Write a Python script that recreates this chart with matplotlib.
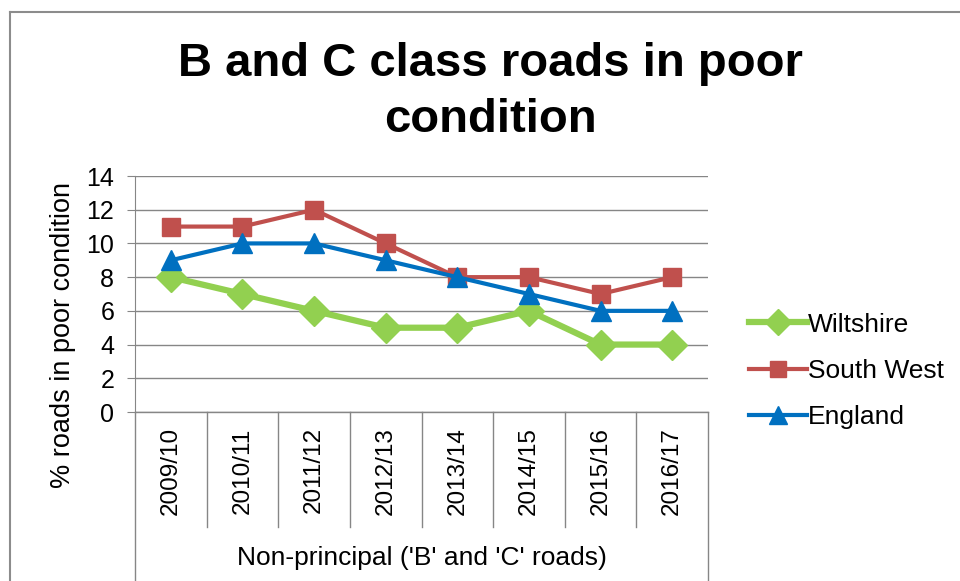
import matplotlib
matplotlib.use("Agg")
import matplotlib.pyplot as plt
from matplotlib.lines import Line2D

plt.rcParams['font.family'] = ['Liberation Sans', 'DejaVu Sans']

# data
years = ['2009/10', '2010/11', '2011/12', '2012/13',
         '2013/14', '2014/15', '2015/16', '2016/17']
wiltshire = [8, 7, 6, 5, 5, 6, 4, 4]
south_west = [11, 11, 12, 10, 8, 8, 7, 8]
england = [9, 10, 10, 9, 8, 7, 6, 6]

W, H = 960, 581
fig = plt.figure(figsize=(W / 100, H / 100), dpi=100)
ax = fig.add_axes([135 / W, 1 - 412 / H, 573 / W, 236 / H])

x = list(range(len(years)))
ax.plot(x, wiltshire, color='#92D050', lw=4.5, marker='D', ms=15,
        label='Wiltshire', zorder=3)
ax.plot(x, south_west, color='#C0504D', lw=3, marker='s', ms=13,
        label='South West', zorder=3)
ax.plot(x, england, color='#0070C0', lw=3, marker='^', ms=14,
        label='England', zorder=4)

ax.set_xlim(-0.5, len(years) - 0.5)
ax.set_ylim(0, 14)
ax.set_yticks(range(0, 15, 2))
ax.grid(axis='y', color='#868686', lw=1)
ax.set_axisbelow(True)
for s in ['top', 'right', 'bottom']:
    ax.spines[s].set_visible(False)
ax.spines['left'].set_color('#868686')
ax.tick_params(axis='y', length=6, color='#868686', labelsize=18, pad=9)

ax.set_xticks(x)
ax.set_xticklabels(years, rotation=90, fontsize=17.5)
ax.tick_params(axis='x', length=0, pad=11)

# category table below the plot
gray = '#868686'
tr = ax.get_xaxis_transform()
ax.plot([-0.5, len(years) - 0.5], [0, 0], transform=tr, color=gray,
        lw=1, clip_on=False)
for i in range(1, len(years)):
    ax.plot([i - 0.5, i - 0.5], [0, -115 / 236], transform=tr, color=gray,
            lw=1, clip_on=False)
for xe in [-0.5, len(years) - 0.5]:
    ax.plot([xe, xe], [0, -175 / 236], transform=tr, color=gray,
            lw=1, clip_on=False)
ax.text(3.5, -146 / 236, "Non-principal ('B' and 'C' roads)", transform=tr,
        ha='center', va='center', fontsize=19)

fig.text(63 / W, 1 - 335 / H, '% roads in poor condition', rotation=90,
         ha='center', va='center', fontsize=19.5)

fig.text(490 / W, 1 - 92 / H, 'B and C class roads in poor\ncondition',
         ha='center', va='center', fontsize=34, fontweight='bold',
         linespacing=1.35)

ax.legend(loc='center left', bbox_to_anchor=(725 / W, 1 - 371 / H),
          bbox_transform=fig.transFigure, frameon=False, fontsize=19,
          handlelength=2.2, handletextpad=0.05, labelspacing=0.85,
          markerscale=0.9)

# outer chart border (top and left)
fig.add_artist(Line2D([10 / W, 1], [1 - 12 / H, 1 - 12 / H], color='#8c8c8c', lw=1.5))
fig.add_artist(Line2D([10 / W, 10 / W], [0, 1 - 12 / H], color='#8c8c8c', lw=1.5))

fig.savefig('out.png', dpi=100)
